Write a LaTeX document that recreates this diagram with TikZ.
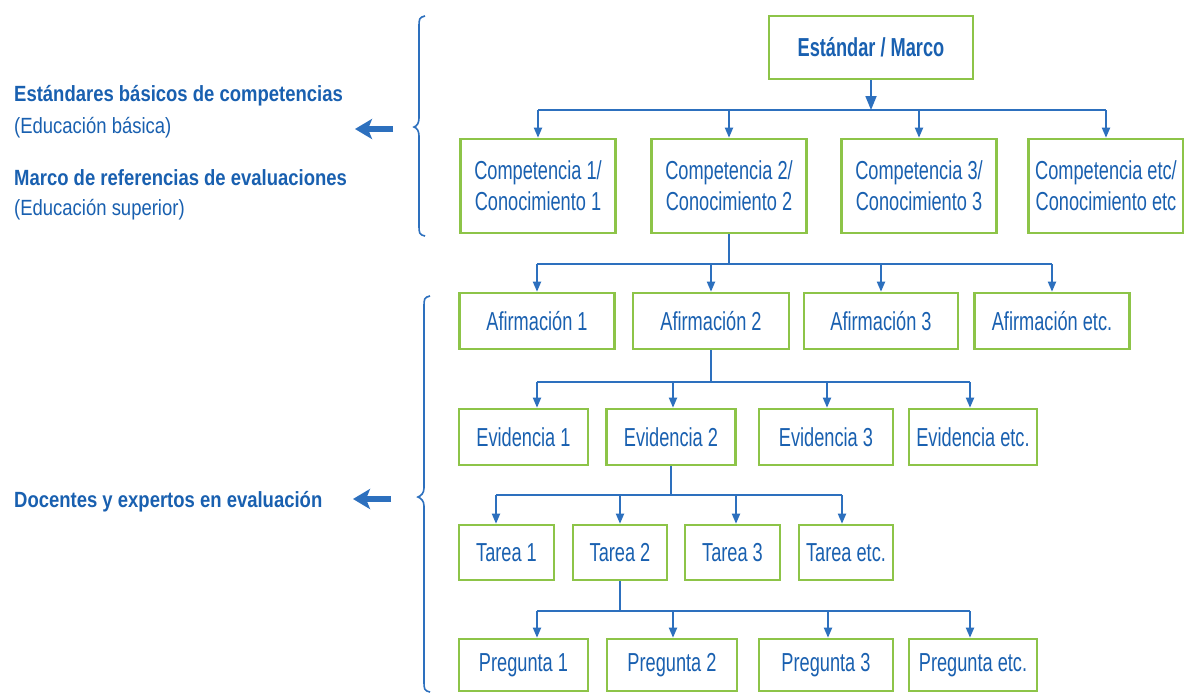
\documentclass[tikz,border=0pt]{standalone}
\usepackage{fontspec}
\setmainfont{Liberation Sans}[FakeStretch=0.7]
\newfontfamily\leftfont{Liberation Sans}[FakeStretch=0.84]
\usetikzlibrary{arrows.meta}
\definecolor{tblue}{RGB}{25,96,176}
\definecolor{lblue}{RGB}{45,112,190}
\definecolor{bgreen}{RGB}{141,196,72}
\begin{document}
\begin{tikzpicture}[x=1pt,y=-1pt,
  box/.style={draw=bgreen, line width=2.6pt, fill=white, text=tblue, align=center, inner sep=0pt, font=\fontsize{26}{31}\selectfont},
  link/.style={draw=lblue, line width=1.8pt},
  arr/.style={link, -{Triangle[length=10pt,width=8pt]}},
  toparr/.style={link, -{Triangle[length=14pt,width=11pt]}},
  bigarr/.style={draw=lblue, line width=6pt, -{Stealth[length=17pt,width=20pt,inset=4pt]}},
  brace/.style={draw=lblue, line width=1.6pt},
  ltxt/.style={anchor=base west, text=tblue, inner sep=0pt, font=\fontsize{22}{25}\selectfont\leftfont},
  ltxtb/.style={ltxt, font=\fontsize{22}{25}\selectfont\leftfont\bfseries}
]
\fill[white] (0,0) rectangle (1184,694);
\useasboundingbox (0,0) rectangle (1184,694);

% top
\node[box, minimum width=204pt, minimum height=63pt, font=\fontsize{26}{31}\selectfont\bfseries] (S) at (871,47.5) {Estándar / Marco};

% competencias
\node[box, minimum width=155pt, minimum height=94pt] (C1) at (538,186) {Competencia 1/\\Conocimiento 1};
\node[box, minimum width=155pt, minimum height=94pt] (C2) at (729,186) {Competencia 2/\\Conocimiento 2};
\node[box, minimum width=155pt, minimum height=94pt] (C3) at (919,186) {Competencia 3/\\Conocimiento 3};
\node[box, minimum width=155pt, minimum height=94pt] (C4) at (1106,186) {Competencia etc/\\Conocimiento etc};

% afirmaciones
\node[box, minimum width=155pt, minimum height=56pt] (A1) at (537,321) {Afirmación 1};
\node[box, minimum width=156pt, minimum height=56pt] (A2) at (711,321) {Afirmación 2};
\node[box, minimum width=154pt, minimum height=56pt] (A3) at (881,321) {Afirmación 3};
\node[box, minimum width=155pt, minimum height=56pt] (A4) at (1052,321) {Afirmación etc.};

% evidencias
\node[box, minimum width=129pt, minimum height=56pt] (E1) at (523.5,437) {Evidencia 1};
\node[box, minimum width=129pt, minimum height=56pt] (E2) at (671,437) {Evidencia 2};
\node[box, minimum width=134pt, minimum height=56pt] (E3) at (826,437) {Evidencia 3};
\node[box, minimum width=128pt, minimum height=56pt] (E4) at (973,437) {Evidencia etc.};

% tareas
\node[box, minimum width=95pt, minimum height=55pt] (T1) at (506.5,552.5) {Tarea 1};
\node[box, minimum width=94pt, minimum height=55pt] (T2) at (620,552.5) {Tarea 2};
\node[box, minimum width=95pt, minimum height=55pt] (T3) at (732.5,552.5) {Tarea 3};
\node[box, minimum width=94pt, minimum height=55pt] (T4) at (846,552.5) {Tarea etc.};

% preguntas
\node[box, minimum width=129pt, minimum height=52pt] (P1) at (523.5,665) {Pregunta 1};
\node[box, minimum width=130pt, minimum height=52pt] (P2) at (672,665) {Pregunta 2};
\node[box, minimum width=134pt, minimum height=52pt] (P3) at (826,665) {Pregunta 3};
\node[box, minimum width=128pt, minimum height=52pt] (P4) at (973,665) {Pregunta etc.};

% level 1 connectors
\coordinate (b1) at (0,110);
\draw[link] (C1.north |- b1) -- (C4.north |- b1);
\draw[toparr] (S.south) -- (S.south |- b1);
\foreach \n in {C1,C2,C3,C4} \draw[arr] (\n.north |- b1) -- (\n.north);

% level 2
\coordinate (b2) at (0,264);
\draw[link] (C2.south) -- (C2.south |- b2);
\draw[link] (A1.north |- b2) -- (A4.north |- b2);
\foreach \n in {A1,A2,A3,A4} \draw[arr] (\n.north |- b2) -- (\n.north);

% level 3
\coordinate (e1) at (537,382);
\coordinate (e2) at (673,382);
\coordinate (e3) at (827,382);
\coordinate (e4) at (970,382);
\draw[link] (A2.south) -- (A2.south |- e1);
\draw[link] (e1) -- (e4);
\draw[arr] (e1) -- (e1 |- E1.north);
\draw[arr] (e2) -- (e2 |- E2.north);
\draw[arr] (e3) -- (e3 |- E3.north);
\draw[arr] (e4) -- (e4 |- E4.north);

% level 4
\coordinate (t1) at (496,495);
\coordinate (t2) at (620,495);
\coordinate (t3) at (736,495);
\coordinate (t4) at (842,495);
\draw[link] (E2.south) -- (E2.south |- t1);
\draw[link] (t1) -- (t4);
\draw[arr] (t1) -- (t1 |- T1.north);
\draw[arr] (t2) -- (t2 |- T2.north);
\draw[arr] (t3) -- (t3 |- T3.north);
\draw[arr] (t4) -- (t4 |- T4.north);

% level 5
\coordinate (p1) at (537,611);
\coordinate (p2) at (673,611);
\coordinate (p3) at (828,611);
\coordinate (p4) at (970,611);
\draw[link] (T2.south) -- (T2.south |- p1);
\draw[link] (p1) -- (p4);
\draw[arr] (p1) -- (p1 |- P1.north);
\draw[arr] (p2) -- (p2 |- P2.north);
\draw[arr] (p3) -- (p3 |- P3.north);
\draw[arr] (p4) -- (p4 |- P4.north);

% braces
\draw[brace] (425,16) .. controls (419,17) and (419,20) .. (419,26) -- (419,118)
  .. controls (419,123) and (417,126) .. (414,127) .. controls (417,128) and (419,131) .. (419,136)
  -- (419,226) .. controls (419,232) and (419,235) .. (425,236);
\draw[brace] (430,296) .. controls (424,297) and (424,300) .. (424,306) -- (424,488)
  .. controls (424,493) and (421,496) .. (418,497) .. controls (421,498) and (424,501) .. (424,506)
  -- (424,682) .. controls (424,688) and (424,691) .. (430,692);

% left arrows
\coordinate (la1s) at (393,129);
\coordinate (la1e) at (355,129);
\coordinate (la2s) at (391,499);
\coordinate (la2e) at (353,499);
\draw[bigarr] (la1s) -- (la1e);
\draw[bigarr] (la2s) -- (la2e);

% left texts
\node[ltxtb] (L1) at (14,101) {Estándares básicos de competencias};
\node[ltxt] (L2) at (14,133) {(Educación básica)};
\node[ltxtb] (L3) at (14,185) {Marco de referencias de evaluaciones};
\node[ltxt] (L4) at (14,215) {(Educación superior)};
\node[ltxtb] (L5) at (14,507) {Docentes y expertos en evaluación};
\end{tikzpicture}
\end{document}
